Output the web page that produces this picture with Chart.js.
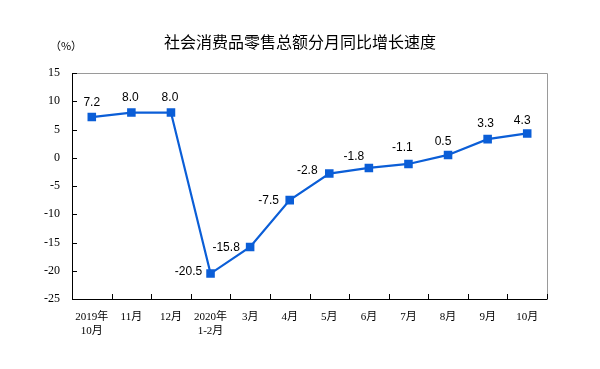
<!DOCTYPE html>
<html>
<head>
<meta charset="utf-8">
<script src="https://cdn.jsdelivr.net/npm/chart.js@4/dist/chart.umd.min.js"></script>
<style>
html,body{margin:0;padding:0;background:#fff;}
#wrap{width:600px;height:369px;position:relative;}
</style>
</head>
<body>
<div id="wrap"><canvas id="c" width="600" height="369"></canvas></div>
<script>
const categories = [["2019年","10月"],"11月","12月",["2020年","1-2月"],"3月","4月","5月","6月","7月","8月","9月","10月"];
const growthRate = [7.2, 8.0, 8.0, -20.5, -15.8, -7.5, -2.8, -1.8, -1.1, 0.5, 3.3, 4.3];
const yTicks = [15, 10, 5, 0, -5, -10, -15, -20, -25];
const chartTitle = "社会消费品零售总额分月同比增长速度";
const unitLabel = "（%）";

// label placement relative to each point (style only)
const labelOffsets = [[0,-14],[-1,-15],[-1,-15],[-22,-2],[-24,1],[-21,1],[-22,-3],[-15,-11],[-6,-16],[-5,-13],[-2,-15],[-5,-13]];

const decor = {
  id: 'decor',
  afterDraw(chart) {
    const ctx = chart.ctx;
    const a = chart.chartArea;
    const x = chart.scales.x, y = chart.scales.y;
    ctx.save();
    ctx.lineWidth = 1;
    ctx.strokeStyle = '#9a9a9a';
    ctx.beginPath();
    ctx.moveTo(a.left, a.top + 0.5); ctx.lineTo(a.right + 0.5, a.top + 0.5);
    ctx.lineTo(a.right + 0.5, a.bottom);
    ctx.stroke();
    ctx.strokeStyle = '#000';
    ctx.beginPath();
    ctx.moveTo(a.left + 0.5, a.top); ctx.lineTo(a.left + 0.5, a.bottom + 0.5);
    ctx.lineTo(a.right + 0.5, a.bottom + 0.5);
    ctx.stroke();
    ctx.beginPath();
    yTicks.forEach(v => {
      const py = Math.round(y.getPixelForValue(v)) + 0.5;
      ctx.moveTo(a.left, py); ctx.lineTo(a.left + 5, py);
    });
    const n = categories.length;
    const half = (x.getPixelForValue(1) - x.getPixelForValue(0)) / 2;
    for (let i = 1; i <= n; i++) {
      const px = Math.round(x.getPixelForValue(i - 1) + half) + 0.5;
      ctx.moveTo(px, a.bottom); ctx.lineTo(px, a.bottom - 5);
    }
    ctx.stroke();
    ctx.fillStyle = '#000';
    ctx.font = '12px "Liberation Sans", Arial, sans-serif';
    ctx.textAlign = 'center';
    ctx.textBaseline = 'middle';
    const meta = chart.getDatasetMeta(0);
    meta.data.forEach((pt, i) => {
      const o = labelOffsets[i];
      ctx.fillText(growthRate[i].toFixed(1), pt.x + o[0], pt.y + o[1]);
    });
    ctx.font = '16px "Noto Sans CJK SC", sans-serif';
    ctx.fillText(chartTitle, chart.width / 2, 42);
    ctx.font = '11px "Noto Sans CJK SC", sans-serif';
    ctx.fillText(unitLabel, 66, 46);
    ctx.restore();
  }
};

new Chart(document.getElementById('c'), {
  type: 'line',
  data: {
    labels: categories,
    datasets: [{
      data: growthRate,
      borderColor: '#0b5ed7',
      backgroundColor: '#0b5ed7',
      borderWidth: 2.2,
      pointStyle: 'rect',
      pointRadius: 4.5,
      pointHoverRadius: 4.5,
      tension: 0,
      fill: false
    }]
  },
  options: {
    responsive: false,
    animation: false,
    events: [],
    layout: { padding: { top: 73, right: 53, left: 0, bottom: 0 } },
    plugins: { legend: { display: false }, title: { display: false }, tooltip: { enabled: false } },
    scales: {
      x: {
        offset: true,
        grid: { display: false, drawTicks: false },
        border: { display: false },
        ticks: {
          autoSkip: false, maxRotation: 0, minRotation: 0, padding: 11,
          color: '#000',
          font: { family: '"Liberation Serif", "Noto Sans CJK SC", serif', size: 11, lineHeight: 1.25 }
        },
        afterFit(s) { s.height = 70; }
      },
      y: {
        min: -25, max: 15,
        grid: { display: false, drawTicks: false },
        border: { display: false },
        ticks: {
          stepSize: 5, padding: 12, color: '#000',
          font: { family: '"Liberation Serif", serif', size: 12 }
        },
        afterFit(s) { s.width = 72; }
      }
    }
  },
  plugins: [decor]
});
</script>
</body>
</html>
